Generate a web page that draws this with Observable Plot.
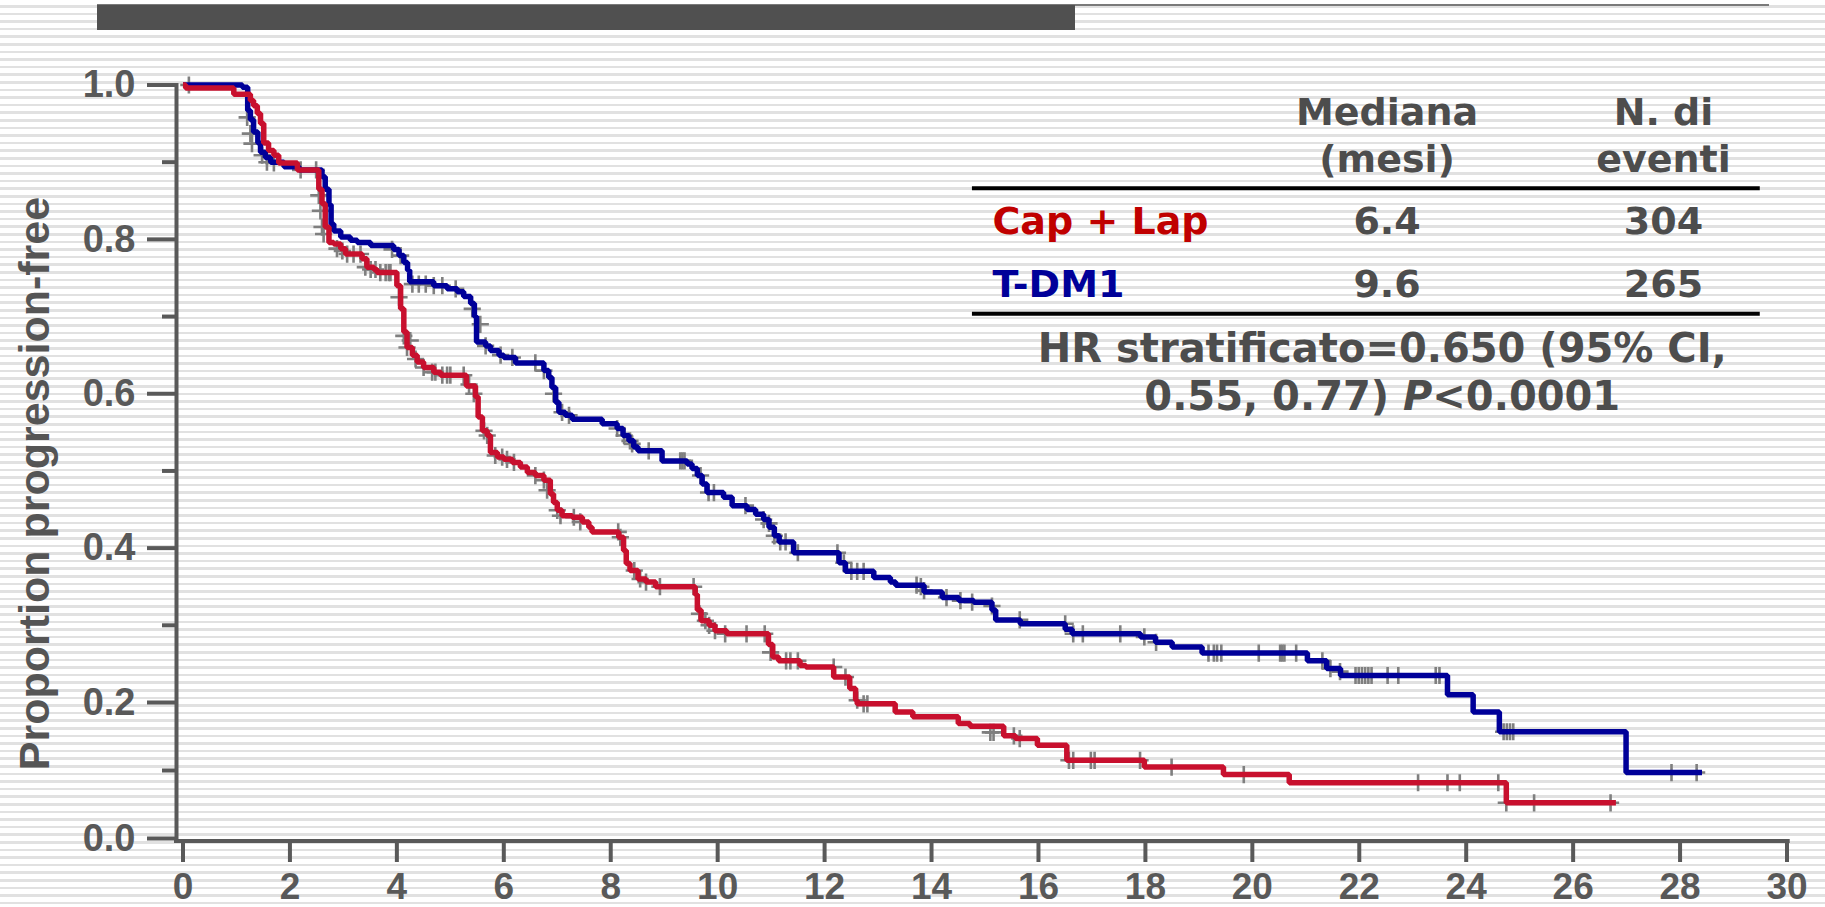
<!DOCTYPE html>
<html>
<head>
<meta charset="utf-8">
<script src="https://cdn.jsdelivr.net/npm/d3@7"></script>
<script src="https://cdn.jsdelivr.net/npm/@observablehq/plot@0.6"></script>
<style>
  html, body { margin: 0; padding: 0; }
  body {
    width: 1825px; height: 907px; overflow: hidden; position: relative;
    background: repeating-linear-gradient(to bottom, #ffffff 0px, #ffffff 5px, #e1e1e1 5px, #e1e1e1 7.6px);
  }
  #topline { position: absolute; left: 97px; top: 4px; width: 1672px; height: 2px; background: #7a7a7a; }
  #topbar { position: absolute; left: 97px; top: 5px; width: 978px; height: 25px; background: #505050; }
  #chart { position: absolute; left: 0; top: 0; }
</style>
</head>
<body>
<div id="topline"></div>
<div id="topbar"></div>
<div id="chart"></div>
<script>
// Kaplan–Meier steps: [months, proportion progression-free from that month on]
const tdm1Steps = [
  [0, 1.0], [1.11, 0.997], [1.21, 0.967], [1.26, 0.955], [1.32, 0.939], [1.40, 0.925],
  [1.45, 0.913], [1.54, 0.906], [1.64, 0.900], [1.89, 0.894], [2.17, 0.890], [2.60, 0.881],
  [2.66, 0.865], [2.73, 0.845], [2.77, 0.820], [2.82, 0.811], [2.95, 0.803], [3.13, 0.799],
  [3.26, 0.796], [3.51, 0.792], [3.94, 0.787], [4.04, 0.779], [4.13, 0.770], [4.20, 0.760],
  [4.24, 0.745], [4.69, 0.740], [4.94, 0.736], [5.13, 0.732], [5.25, 0.726], [5.38, 0.717],
  [5.45, 0.700], [5.49, 0.667], [5.66, 0.662], [5.75, 0.656], [5.91, 0.650], [6.00, 0.647],
  [6.22, 0.640], [6.75, 0.630], [6.84, 0.621], [6.90, 0.608], [6.97, 0.589], [7.03, 0.576],
  [7.15, 0.572], [7.28, 0.567], [7.84, 0.561], [8.12, 0.555], [8.23, 0.546], [8.34, 0.539],
  [8.43, 0.531], [8.51, 0.526], [8.96, 0.513], [9.43, 0.509], [9.52, 0.503], [9.62, 0.494],
  [9.71, 0.483], [9.80, 0.472], [10.11, 0.466], [10.27, 0.455], [10.55, 0.450], [10.71, 0.444],
  [10.86, 0.437], [10.96, 0.427], [11.06, 0.416], [11.15, 0.408], [11.42, 0.394], [12.27, 0.381],
  [12.39, 0.370], [12.92, 0.362], [13.23, 0.356], [13.33, 0.352], [13.86, 0.343], [14.20, 0.336],
  [14.51, 0.332], [14.79, 0.330], [15.13, 0.320], [15.20, 0.307], [15.66, 0.302], [16.50, 0.295],
  [16.63, 0.289], [17.91, 0.285], [18.19, 0.278], [18.50, 0.272], [19.06, 0.264], [21.03, 0.254],
  [21.39, 0.244], [21.65, 0.235], [23.65, 0.210], [24.13, 0.186], [24.62, 0.157], [26.99, 0.097],
  [28.41, 0.097]
];
const capLapSteps = [
  [0, 1.0], [0.05, 0.996], [0.95, 0.988], [1.26, 0.980], [1.32, 0.973], [1.39, 0.963],
  [1.45, 0.950], [1.51, 0.925], [1.60, 0.915], [1.70, 0.909], [1.79, 0.899], [2.14, 0.890],
  [2.54, 0.865], [2.60, 0.846], [2.66, 0.816], [2.73, 0.796], [2.82, 0.794], [2.95, 0.788],
  [3.04, 0.781], [3.35, 0.775], [3.44, 0.764], [3.57, 0.761], [3.63, 0.757], [4.00, 0.740],
  [4.07, 0.710], [4.13, 0.680], [4.19, 0.660], [4.29, 0.650], [4.38, 0.641], [4.50, 0.634],
  [4.69, 0.628], [4.82, 0.624], [5.30, 0.610], [5.47, 0.596], [5.52, 0.570], [5.60, 0.552],
  [5.69, 0.546], [5.75, 0.524], [5.88, 0.518], [6.00, 0.515], [6.16, 0.511], [6.31, 0.505],
  [6.44, 0.498], [6.59, 0.494], [6.75, 0.488], [6.87, 0.470], [6.93, 0.459], [7.00, 0.449],
  [7.09, 0.442], [7.28, 0.440], [7.47, 0.434], [7.59, 0.427], [7.65, 0.421], [8.15, 0.414],
  [8.24, 0.397], [8.29, 0.380], [8.36, 0.371], [8.51, 0.360], [8.66, 0.356], [8.84, 0.350],
  [9.58, 0.340], [9.62, 0.320], [9.69, 0.306], [9.84, 0.300], [9.95, 0.293], [10.17, 0.289],
  [10.95, 0.275], [11.03, 0.259], [11.14, 0.254], [11.54, 0.248], [11.65, 0.246], [12.17, 0.233],
  [12.47, 0.218], [12.58, 0.203], [12.61, 0.198], [13.32, 0.186], [13.65, 0.179], [14.50, 0.169],
  [14.72, 0.165], [15.35, 0.151], [15.57, 0.147], [15.98, 0.137], [16.53, 0.115], [17.98, 0.105],
  [19.46, 0.094], [20.69, 0.082], [24.75, 0.0525], [26.80, 0.0525]
];

// Censored observations: [months, proportion]
const tdm1Censored = [
  [1.20, 0.958], [1.26, 0.937], [1.29, 0.924], [2.20, 0.890], [2.49, 0.890],
  [2.54, 0.857], [2.57, 0.837], [2.60, 0.816], [2.63, 0.807], [3.91, 0.787], [4.07, 0.779],
  [4.29, 0.742], [4.41, 0.742], [4.54, 0.742], [4.69, 0.740], [4.85, 0.740], [5.10, 0.736],
  [5.41, 0.710], [5.56, 0.690], [5.66, 0.662], [5.94, 0.650], [6.16, 0.647], [6.59, 0.640],
  [6.75, 0.630], [6.93, 0.600], [7.09, 0.576], [7.22, 0.572], [8.12, 0.555], [8.25, 0.546],
  [8.36, 0.539], [8.40, 0.535], [8.71, 0.526], [9.30, 0.513], [9.34, 0.513], [9.38, 0.513],
  [9.68, 0.494], [9.83, 0.472], [9.93, 0.472], [10.52, 0.455], [10.86, 0.437], [10.96, 0.432],
  [11.06, 0.416], [11.17, 0.408], [11.27, 0.408], [11.50, 0.394], [12.24, 0.394], [12.36, 0.381],
  [12.50, 0.370], [12.61, 0.370], [12.73, 0.370], [13.72, 0.352], [13.80, 0.350], [13.86, 0.345],
  [14.28, 0.336], [14.54, 0.332], [14.76, 0.330], [15.13, 0.325], [15.65, 0.307], [16.50, 0.302],
  [16.65, 0.289], [16.83, 0.289], [17.53, 0.289], [17.98, 0.285], [18.20, 0.278], [19.18, 0.264],
  [19.28, 0.264], [19.34, 0.264], [19.42, 0.264], [20.12, 0.264], [20.52, 0.264], [20.56, 0.264],
  [20.60, 0.264], [20.82, 0.264], [21.31, 0.254], [21.46, 0.244], [21.64, 0.240], [21.93, 0.235],
  [21.99, 0.235], [22.05, 0.235], [22.11, 0.235], [22.17, 0.235], [22.23, 0.235], [22.53, 0.235],
  [22.73, 0.235], [23.43, 0.235], [23.50, 0.235], [24.70, 0.157], [24.76, 0.157], [24.82, 0.157],
  [24.88, 0.157], [27.84, 0.097], [28.31, 0.097]
];
const capLapCensored = [
  [0.11, 1.0], [1.48, 0.909], [1.57, 0.900], [1.70, 0.899], [2.88, 0.788], [2.98, 0.785],
  [3.07, 0.781], [3.19, 0.781], [3.32, 0.781], [3.41, 0.764], [3.51, 0.761], [3.60, 0.761],
  [3.69, 0.757], [3.79, 0.757], [3.85, 0.757], [3.88, 0.757], [4.04, 0.725], [4.13, 0.675],
  [4.19, 0.660], [4.25, 0.669], [4.35, 0.645], [4.50, 0.634], [4.66, 0.628], [4.72, 0.628],
  [4.85, 0.624], [4.94, 0.624], [5.00, 0.624], [5.25, 0.624], [5.35, 0.612], [5.44, 0.600],
  [5.63, 0.552], [5.69, 0.546], [5.84, 0.520], [5.97, 0.518], [6.06, 0.515], [6.19, 0.511],
  [6.59, 0.494], [6.75, 0.488], [6.81, 0.475], [7.00, 0.449], [7.06, 0.442], [7.31, 0.440],
  [7.43, 0.434], [8.14, 0.421], [8.18, 0.414], [8.44, 0.371], [8.55, 0.360], [8.66, 0.356],
  [8.92, 0.350], [9.55, 0.350], [9.66, 0.315], [9.77, 0.306], [9.84, 0.300], [9.95, 0.293],
  [10.14, 0.289], [10.54, 0.289], [10.88, 0.289], [10.99, 0.265], [11.28, 0.254], [11.36, 0.254],
  [11.50, 0.254], [12.17, 0.246], [12.39, 0.233], [12.61, 0.203], [12.73, 0.198], [12.80, 0.198],
  [15.10, 0.156], [15.16, 0.156], [15.54, 0.151], [15.65, 0.147], [16.57, 0.115], [16.65, 0.115],
  [16.98, 0.115], [17.05, 0.115], [17.90, 0.115], [18.49, 0.105], [19.84, 0.094], [23.10, 0.082],
  [23.65, 0.082], [23.88, 0.082], [24.60, 0.082], [24.75, 0.0525], [25.27, 0.0525], [26.70, 0.0525]
];

const arms = ["Cap + Lap", "T-DM1"];
const armLineColors = ["#c8102e", "#000099"];
const armLabelColors = ["#c00000", "#000099"];
const medianMonths = ["6.4", "9.6"];
const eventCounts = ["304", "265"];
const tableHeaders = ["Mediana\n(mesi)", "N. di\neventi"];
const hazardLines = ["HR stratificato=0.650 (95% CI,", "0.55, 0.77) P<0.0001"];

const xTicks = d3.range(0, 31, 2);
const yMajorTicks = [0, 0.2, 0.4, 0.6, 0.8, 1.0];
const yMinorTicks = [0.1, 0.3, 0.5, 0.7, 0.9];
const yTitle = "Proportion progression-free";

// tidy rows for the marks
const toRows = (arm, pts) => pts.map(([t, v]) => ({arm, t, v}));
const curves = [...toRows("T-DM1", tdm1Steps), ...toRows("Cap + Lap", capLapSteps)];
const censored = [...toRows("T-DM1", tdm1Censored), ...toRows("Cap + Lap", capLapCensored)];

// annotation table, placed in data units (months, proportion)
const colMedian = 22.52, colEvents = 27.69, colLabel = 15.14;
const rowY = [0.8072, 0.7251];
const headerRows = [
  {text: tableHeaders[0], x: colMedian, y: 0.887},
  {text: tableHeaders[1], x: colEvents, y: 0.887}
];
const armRows = arms.map((arm, i) => ({text: arm, x: colLabel, y: rowY[i], fill: armLabelColors[i]}));
const valueRows = arms.flatMap((arm, i) => [
  {text: medianMonths[i], x: colMedian, y: rowY[i]},
  {text: eventCounts[i], x: colEvents, y: rowY[i]}
]);
const hazardRows = [
  {text: hazardLines[0], x: 22.43, y: 0.6409},
  {text: hazardLines[1], x: 22.43, y: 0.5783}
];
const tableRules = [0.8663, 0.7036];

const axisColor = "#595959";
const tableFont = "'DejaVu Sans', Verdana, sans-serif";

const chart = Plot.plot({
  width: 1825,
  height: 907,
  marginLeft: 176,
  marginRight: 0,
  marginTop: 0,
  marginBottom: 67,
  style: {
    background: "transparent",
    fontFamily: "'Liberation Sans', Arial, sans-serif",
    fontWeight: "bold",
    overflow: "visible"
  },
  x: {type: "linear", domain: [0, 30], range: [182.5, 1786.5]},
  // piecewise: the 0–0.2 band is drawn a little tighter than the rest
  y: {type: "linear", domain: [0, 0.2, 1], range: [838, 702, 84.5]},
  color: {domain: arms, range: armLineColors},
  marks: [
    // axis lines
    Plot.ruleY([-0.0037], {x1: -0.159, x2: 30.06, stroke: axisColor, strokeWidth: 4}),
    Plot.ruleX([-0.1216], {y1: -0.0066, y2: 1.002, stroke: axisColor, strokeWidth: 4}),
    Plot.axisX(xTicks, {
      anchor: "bottom", tickSize: 22, tickPadding: 10, strokeWidth: 4,
      fontSize: 37, color: axisColor, label: null, tickFormat: d => String(d)
    }),
    Plot.axisY(yMajorTicks, {
      anchor: "left", tickSize: 29, tickPadding: 12, strokeWidth: 4,
      fontSize: 38, color: axisColor, label: null, tickFormat: d3.format(".1f")
    }),
    Plot.axisY(yMinorTicks, {
      anchor: "left", tickSize: 14, strokeWidth: 4, color: axisColor,
      label: null, tickFormat: () => ""
    }),
    Plot.text([yTitle], {
      x: () => -2.515, y: () => 0.4837, text: d => d, rotate: -90,
      textAnchor: "middle", lineAnchor: "bottom", fontSize: 43, fill: "#555555"
    }),

    // censoring marks under the curves
    Plot.dot(censored, {
      x: "t", y: "v", symbol: "plus", r: 5.6, stroke: "#7f7f7f", strokeWidth: 2.6
    }),
    // survival curves
    Plot.line(curves, {
      x: "t", y: "v", z: "arm", stroke: "arm", curve: "step-after",
      strokeWidth: 5.5, strokeLinejoin: "miter", strokeLinecap: "butt"
    }),

    // summary table
    Plot.ruleY(tableRules, {x1: 14.765, x2: 29.5, stroke: "#000000", strokeWidth: 4}),
    Plot.text(headerRows, {
      x: "x", y: "y", text: "text", lineAnchor: "bottom", lineHeight: 1.23,
      textAnchor: "middle", fontSize: 38, fontFamily: tableFont, fill: "#4d4d4d"
    }),
    Plot.text(armRows, {
      x: "x", y: "y", text: "text", lineAnchor: "bottom", textAnchor: "start",
      fontSize: 38, fontFamily: tableFont, fill: "fill"
    }),
    Plot.text(valueRows, {
      x: "x", y: "y", text: "text", lineAnchor: "bottom", textAnchor: "middle",
      fontSize: 38, fontFamily: tableFont, fill: "#4d4d4d"
    }),
    Plot.text(hazardRows, {
      x: "x", y: "y", text: "text", lineAnchor: "bottom", textAnchor: "middle",
      fontSize: 40, fontFamily: tableFont, fill: "#4d4d4d"
    })
  ]
});

// italic P in the p-value line
d3.select(chart).selectAll("text").each(function () {
  if (this.textContent === hazardLines[1]) {
    const [before, after] = hazardLines[1].split("P");
    const el = d3.select(this).text("");
    el.append("tspan").text(before);
    el.append("tspan").attr("font-style", "italic").text("P");
    el.append("tspan").text(after);
  }
});

document.getElementById("chart").appendChild(chart);
</script>
</body>
</html>
